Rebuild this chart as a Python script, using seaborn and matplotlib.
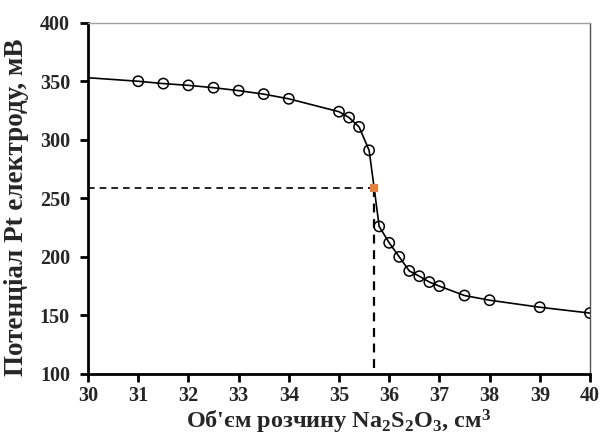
import matplotlib
matplotlib.use('Agg')
import matplotlib.pyplot as plt
import seaborn as sns
import pandas as pd

# titration curve data
volume = [31, 31.5, 32, 32.5, 33, 33.5, 34, 35, 35.2, 35.4, 35.6,
          35.8, 36, 36.2, 36.4, 36.6, 36.8, 37, 37.5, 38, 39, 40]
potential = [350, 348, 346.5, 344.5, 342, 339, 335, 324, 319, 311, 291,
             226, 212, 200, 188, 183.5, 178.5, 175, 167, 163, 157, 152]

# curve start (line only, no marker)
start_volume = 30
start_potential = 353

# equivalence point
eq_volume = 35.7
eq_potential = 259

df = pd.DataFrame({'V': volume, 'E': potential})
line_df = pd.DataFrame({
    'V': [start_volume] + volume[:11] + [eq_volume] + volume[11:],
    'E': [start_potential] + potential[:11] + [eq_potential] + potential[11:],
})

sns.set_style('white')
plt.rcParams['font.family'] = ['Liberation Serif', 'DejaVu Serif']
plt.rcParams['font.weight'] = 'bold'
plt.rcParams['mathtext.fontset'] = 'custom'
plt.rcParams['mathtext.rm'] = 'Liberation Serif:bold'
plt.rcParams['mathtext.bf'] = 'Liberation Serif:bold'
plt.rcParams['mathtext.it'] = 'Liberation Serif:bold'

fig = plt.figure(figsize=(6, 4.41), dpi=100)
ax = fig.add_axes([0.1467, 0.152, 0.8366, 0.7965])

sns.lineplot(data=line_df, x='V', y='E', ax=ax, color='black', linewidth=1.2,
             sort=False, zorder=2)
sns.scatterplot(data=df, x='V', y='E', ax=ax, marker='o', s=55,
                facecolor='none', edgecolor='black', linewidth=1.1, zorder=3)

# dashed guide lines to the equivalence point
ax.plot([30, eq_volume], [eq_potential, eq_potential], color='black',
        linestyle=(0, (4, 3)), linewidth=1.2, zorder=1)
ax.plot([eq_volume, eq_volume], [eq_potential, 100], color='black',
        linestyle=(0, (4, 3)), linewidth=1.6, zorder=1)
ax.scatter([eq_volume], [eq_potential], marker='s', s=36, color='#ED7D31',
           zorder=4, linewidths=0)

ax.set_xlim(30, 40)
ax.set_ylim(100, 400)
ax.set_xticks(range(30, 41))
ax.set_yticks(range(100, 401, 50))

ax.set_xlabel('Об\'єм розчину Na$_\\mathbf{2}$S$_\\mathbf{2}$O$_\\mathbf{3}$, см$^\\mathbf{3}$',
              fontsize=17.5, fontweight='bold', labelpad=1)
ax.set_ylabel('Потенціал Pt електроду, мВ', fontsize=19.5, fontweight='bold')
ax.yaxis.set_label_coords(-0.118, 0.476)

for lbl in ax.get_xticklabels() + ax.get_yticklabels():
    lbl.set_fontweight('bold')
    lbl.set_fontsize(14.5)

ax.tick_params(axis='both', direction='out', length=6, width=2, color='black',
               left=True, bottom=True)
ax.tick_params(axis='y', pad=7)
ax.tick_params(axis='x', pad=3)

ax.spines['left'].set_color('black')
ax.spines['left'].set_linewidth(2)
ax.spines['bottom'].set_color('black')
ax.spines['bottom'].set_linewidth(2)
ax.spines['top'].set_color('#A0A0A0')
ax.spines['top'].set_linewidth(1)
ax.spines['right'].set_color('#505050')
ax.spines['right'].set_linewidth(1)

fig.savefig('out.png', dpi=100)
